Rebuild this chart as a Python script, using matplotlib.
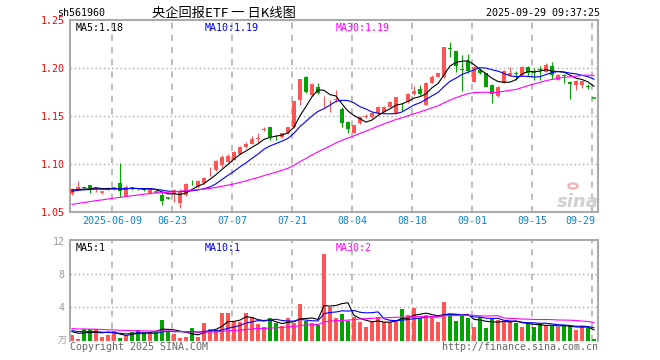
import matplotlib
matplotlib.use('Agg')
import matplotlib.pyplot as plt
import numpy as np
import pandas as pd

plt.rcParams['font.family'] = ['DejaVu Sans Mono', 'Noto Sans CJK SC']

# ---------------- data ----------------
opens = [1.0688, 1.0738, 1.0762, 1.0778, 1.0736, 1.0703, 1.0729, 1.0729, 1.0799, 1.0670,
         1.0748, 1.0748, 1.0745, 1.0695, 1.0712, 1.0674, 1.0648, 1.0684, 1.0597, 1.0677,
         1.0805, 1.0760, 1.0800, 1.0935, 1.0935, 1.0985, 1.1025, 1.1045, 1.1105, 1.1175,
         1.1210, 1.1262, 1.1358, 1.1385, 1.1282, 1.1278, 1.1319, 1.1382, 1.1667, 1.1910,
         1.1719, 1.1799, 1.1635, 1.1652, 1.1670, 1.1573, 1.1441, 1.1326, 1.1431, 1.1493,
         1.1486, 1.1528, 1.1545, 1.1597, 1.1535, 1.1597, 1.1649, 1.1729, 1.1781, 1.1615,
         1.1847, 1.1910, 1.1903, 1.2205, 1.2175, 1.1985, 1.2076, 1.1858, 1.1983, 1.1944,
         1.1823, 1.1710, 1.1845, 1.1930, 1.1951, 1.1927, 1.2010, 1.1958, 1.1985, 1.1962,
         1.2018, 1.1875, 1.1925, 1.1858, 1.1823, 1.1828, 1.1808, 1.1690]
closes = [1.0736, 1.0760, 1.0745, 1.0750, 1.0760, 1.0707, 1.0753, 1.0760, 1.0719, 1.0760,
          1.0744, 1.0742, 1.0725, 1.0750, 1.0708, 1.0618, 1.0645, 1.0725, 1.0712, 1.0792,
          1.0798, 1.0820, 1.0855, 1.0940, 1.1030, 1.1070, 1.1085, 1.1130, 1.1180, 1.1210,
          1.1265, 1.1267, 1.1362, 1.1280, 1.1278, 1.1319, 1.1382, 1.1656, 1.1885, 1.1747,
          1.1833, 1.1736, 1.1640, 1.1658, 1.1675, 1.1424, 1.1361, 1.1406, 1.1493, 1.1500,
          1.1528, 1.1597, 1.1597, 1.1649, 1.1694, 1.1592, 1.1729, 1.1764, 1.1729, 1.1840,
          1.1910, 1.1944, 1.2215, 1.2198, 1.2020, 1.1975, 1.1969, 1.2014, 1.1944, 1.1806,
          1.1729, 1.1806, 1.1970, 1.1951, 1.1940, 1.2014, 1.1948, 1.1953, 1.1980, 1.2028,
          1.1927, 1.1927, 1.1918, 1.1830, 1.1865, 1.1862, 1.1803, 1.1688]
highs = [1.0747, 1.0823, 1.0765, 1.0780, 1.0765, 1.0720, 1.0760, 1.0765, 1.1007, 1.0778,
         1.0758, 1.0755, 1.0750, 1.0755, 1.0725, 1.0719, 1.0660, 1.0740, 1.0740, 1.0800,
         1.0830, 1.0830, 1.0860, 1.0970, 1.1040, 1.1090, 1.1100, 1.1140, 1.1190, 1.1230,
         1.1290, 1.1320, 1.1390, 1.1390, 1.1300, 1.1325, 1.1390, 1.1660, 1.1890, 1.1915,
         1.1840, 1.1840, 1.1708, 1.1670, 1.1771, 1.1590, 1.1445, 1.1410, 1.1500, 1.1520,
         1.1535, 1.1600, 1.1600, 1.1660, 1.1700, 1.1640, 1.1735, 1.1813, 1.1820, 1.1850,
         1.1927, 1.1950, 1.2222, 1.2270, 1.2180, 1.2135, 1.2146, 1.2020, 1.2000, 1.1950,
         1.1830, 1.1810, 1.1975, 1.2010, 1.1965, 1.2020, 1.2024, 1.2000, 1.2020, 1.2050,
         1.2060, 1.1935, 1.1935, 1.1865, 1.1870, 1.1868, 1.1830, 1.1690]
lows = [1.0677, 1.0730, 1.0735, 1.0700, 1.0710, 1.0690, 1.0725, 1.0725, 1.0660, 1.0665,
        1.0725, 1.0730, 1.0715, 1.0690, 1.0700, 1.0576, 1.0635, 1.0608, 1.0545, 1.0670,
        1.0785, 1.0750, 1.0790, 1.0880, 1.0925, 1.0970, 1.1020, 1.1040, 1.1100, 1.1170,
        1.1205, 1.1230, 1.1340, 1.1245, 1.1250, 1.1270, 1.1310, 1.1375, 1.1615, 1.1740,
        1.1710, 1.1730, 1.1590, 1.1545, 1.1650, 1.1382, 1.1326, 1.1320, 1.1420, 1.1480,
        1.1480, 1.1520, 1.1540, 1.1590, 1.1530, 1.1556, 1.1640, 1.1720, 1.1720, 1.1610,
        1.1840, 1.1905, 1.1900, 1.2118, 1.1960, 1.1764, 1.1945, 1.1850, 1.1935, 1.1800,
        1.1632, 1.1700, 1.1840, 1.1920, 1.1880, 1.1920, 1.1920, 1.1875, 1.1875, 1.1955,
        1.1890, 1.1870, 1.1840, 1.1675, 1.1770, 1.1795, 1.1780, 1.1688]
volumes = [0.65, 0.16, 1.45, 1.33, 1.33, 0.40, 0.65, 1.17, 0.32, 0.53,
           1.05, 1.25, 1.05, 1.05, 1.05, 2.47, 1.13, 0.73, 0.32, 0.40,
           1.49, 0.45, 2.10, 1.45, 1.25, 3.31, 3.31, 2.22, 2.22, 3.31,
           2.87, 1.98, 1.66, 2.71, 2.14, 1.74, 2.71, 2.06, 4.40, 2.38,
           2.06, 1.82, 10.46, 4.08, 2.75, 3.19, 2.34, 2.83, 2.26, 1.62,
           2.26, 2.83, 2.18, 2.18, 2.34, 3.80, 3.03, 3.92, 2.75, 3.03,
           2.95, 2.26, 4.65, 3.15, 2.34, 2.95, 2.71, 1.62, 2.79, 1.54,
           2.63, 2.46, 2.22, 2.34, 2.14, 1.62, 2.06, 1.62, 2.06, 1.74,
           1.74, 1.62, 1.82, 1.74, 1.25, 1.74, 1.54, 0.16]
# days before the visible window (estimated from where the MA lines start)
prev_closes = [1.046, 1.045, 1.047, 1.046, 1.048, 1.047, 1.049, 1.048, 1.050, 1.049,
               1.050, 1.051, 1.050, 1.052, 1.054, 1.053, 1.056, 1.058, 1.060, 1.063,
               1.066, 1.069, 1.072, 1.071, 1.073, 1.074, 1.072, 1.073, 1.072]
prev_volumes = [1.8, 1.5, 1.9, 1.6, 1.4, 1.7, 1.5, 1.6, 1.3, 1.8,
                1.5, 1.4, 1.7, 1.6, 1.5, 1.4, 1.6, 1.5, 1.7, 1.5,
                1.4, 1.5, 1.2, 1.3, 1.2, 1.1, 1.3, 1.0, 1.3]
tick_idx = [7, 17, 27, 37, 47, 57, 67, 77, 87]
tick_labels = ['2025-06-09', '06-23', '07-07', '07-21', '08-04', '08-18', '09-01', '09-15', '09-29']
price_ticks = [1.05, 1.10, 1.15, 1.20, 1.25]
vol_ticks = [4, 8, 12]
code = 'sh561960'
title = '央企回报ETF 一 日K线图'
stamp = '2025-09-29 09:37:25'

# ---------------- styling ----------------
W, H = 660, 360
RED = '#ff5555'
GREEN = '#00a300'
GRID = '#aaaaaa'
DATEC = '#0a82d2'
FS = 7.2
LW = 0.8

fig = plt.figure(figsize=(W / 100, H / 100), dpi=100)
fig.patch.set_facecolor('white')


def fax(x0, y0, x1, y1):
    return [x0 / W, 1 - y1 / H, (x1 - x0) / W, (y1 - y0) / H]


def ftext(x, y, s, **kw):
    fig.text(x / W, 1 - y / H, s, **kw)


n = len(closes)
x = np.arange(n)
o = np.array(opens); c = np.array(closes); h = np.array(highs); l = np.array(lows)
v = np.array(volumes)
up = c >= o
cols = np.where(up, RED, GREEN)

full_c = pd.Series(prev_closes + closes)
full_v = pd.Series(prev_volumes + volumes)
np_ = len(prev_closes)
ma = {p: full_c.rolling(p).mean().values[np_:] for p in (5, 10, 30)}
vma = {p: full_v.rolling(p).mean().values[np_:] for p in (5, 10, 30)}

XL = (-0.33, 87.67)
grid_x = [k - 0.38 for k in tick_idx]

# ---------------- price panel ----------------
ax = fig.add_axes(fax(70, 20, 598, 212))
ax.set_xlim(*XL)
ax.set_ylim(1.05, 1.25)
for gy in price_ticks[1:-1]:
    ax.axhline(gy, color=GRID, lw=1.0, ls=(0, (1, 2)), zorder=0)
for gx in grid_x:
    ax.axvline(gx, color=GRID, lw=1.1, ls=(0, (4, 4)), zorder=0)

bw = 0.78
ax.vlines(x, l, h, colors=cols, lw=LW, zorder=2)
body = np.abs(c - o)
flat = body < 0.0004
ax.bar(x[~flat], body[~flat], bottom=np.minimum(o, c)[~flat], width=bw,
       color=cols[~flat], edgecolor=cols[~flat], lw=0.0, zorder=3)
ax.hlines(((o + c) / 2)[flat], x[flat] - bw / 2, x[flat] + bw / 2,
          colors=cols[flat], lw=1.1, zorder=3)

ax.plot(x, ma[5], color='black', lw=LW, zorder=4)
ax.plot(x, ma[10], color='#0000ff', lw=LW, zorder=4)
ax.plot(x, ma[30], color='#ff00ff', lw=LW, zorder=4)

ax.set_xticks([])
ax.set_yticks(price_ticks)
ax.set_yticklabels([f'{t:.2f}' for t in price_ticks], color='#ff0000', fontsize=FS)
ax.tick_params(axis='y', length=0, pad=4)
for s in ax.spines.values():
    s.set_color(GRID)
    s.set_linewidth(1.5)

ax.text(0.01, 0.985, f'MA5:{ma[5][-1]:.2f}', transform=ax.transAxes, color='black',
        fontsize=FS, va='top', ha='left')
ax.text(0.255, 0.985, f'MA10:{ma[10][-1]:.2f}', transform=ax.transAxes, color='#0000ff',
        fontsize=FS, va='top', ha='left')
ax.text(0.503, 0.985, f'MA30:{ma[30][-1]:.2f}', transform=ax.transAxes, color='#ff00ff',
        fontsize=FS, va='top', ha='left')

# date labels
for k, lab in zip(tick_idx, tick_labels):
    px = 72 + 6 * k - 2
    if k == tick_idx[-1]:
        ftext(595, 221, lab, color=DATEC, fontsize=FS, ha='right', va='center')
    else:
        ftext(px, 221, lab, color=DATEC, fontsize=FS, ha='center', va='center')

# sina watermark
ftext(578, 202, 'sina', color='#d0d0d0', fontsize=13, fontweight='bold', style='italic',
      ha='center', va='center', family='DejaVu Sans')
fig.patches.append(plt.Circle((573 / W, 1 - 186 / H), 0.007, transform=fig.transFigure,
                              facecolor='none', edgecolor='#f3b0b0', lw=1.6))

# ---------------- volume panel ----------------
vx = fig.add_axes(fax(70, 240, 598, 340.5))
vx.set_xlim(*XL)
vx.set_ylim(0, 12.15)
for gy in (4, 8):
    vx.axhline(gy, color=GRID, lw=1.0, ls=(0, (1, 2)), zorder=0)
for gx in grid_x:
    vx.axvline(gx, color=GRID, lw=1.1, ls=(0, (4, 4)), zorder=0)
vx.bar(x, v, width=0.8, color=cols, lw=0, zorder=2)
vx.plot(x, vma[5], color='black', lw=LW, zorder=4)
vx.plot(x, vma[10], color='#0000ff', lw=LW, zorder=4)
vx.plot(x, vma[30], color='#ff00ff', lw=LW, zorder=4)
vx.set_xticks([])
vx.set_yticks(vol_ticks)
vx.set_yticklabels([str(t) for t in vol_ticks], color='#999999', fontsize=FS)
vx.tick_params(axis='y', length=0, pad=4)
for name, s in vx.spines.items():
    s.set_color(GRID)
    s.set_linewidth(1.5)
vx.spines['bottom'].set_visible(False)

vx.text(0.01, 0.97, f'MA5:{int(vma[5][-1])}', transform=vx.transAxes, color='black',
        fontsize=FS, va='top', ha='left')
vx.text(0.255, 0.97, f'MA10:{int(vma[10][-1])}', transform=vx.transAxes, color='#0000ff',
        fontsize=FS, va='top', ha='left')
vx.text(0.503, 0.97, f'MA30:{int(vma[30][-1])}', transform=vx.transAxes, color='#ff00ff',
        fontsize=FS, va='top', ha='left')

ftext(62, 341, '万', color='#999999', fontsize=6.5, ha='center', va='center')

# ---------------- header / footer texts ----------------
ftext(57, 13, code, color='black', fontsize=FS, ha='left', va='center')
ftext(224, 13, title, color='black', fontsize=9.5, ha='center', va='center',
      family=['Noto Sans CJK SC', 'DejaVu Sans'])
ftext(600, 13, stamp, color='black', fontsize=FS, ha='right', va='center')
ftext(70, 347, 'Copyright 2025 SINA.COM', color='#666666', fontsize=FS, ha='left', va='center')
ftext(598, 347, 'http://finance.sina.com.cn', color='#666666', fontsize=FS, ha='right', va='center')

fig.savefig('out.png', dpi=100)
